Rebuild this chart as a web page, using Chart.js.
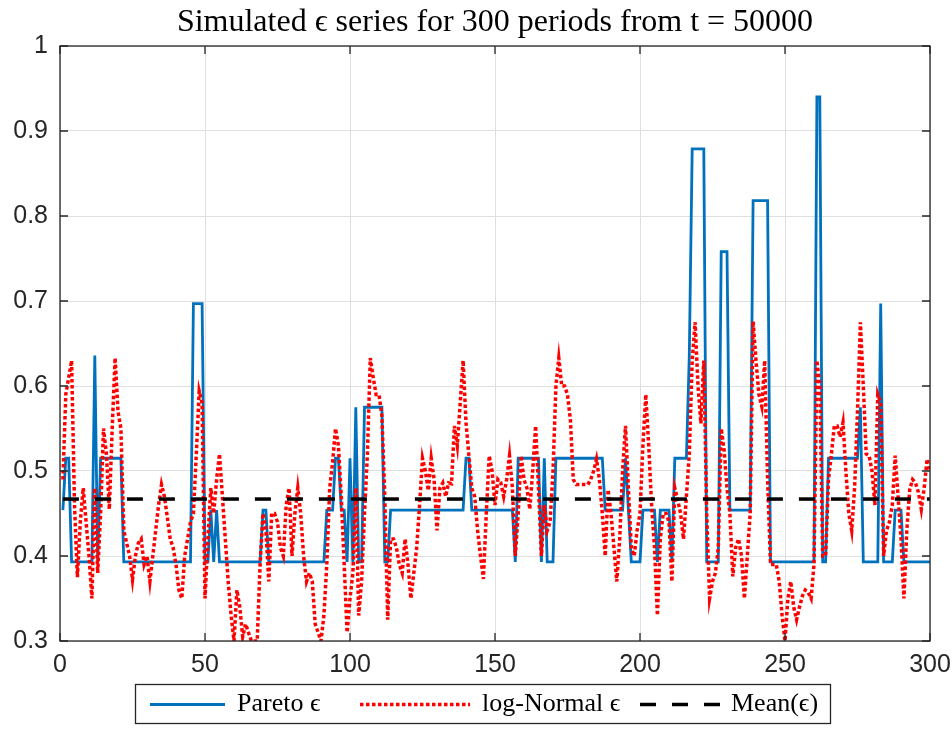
<!DOCTYPE html>
<html>
<head>
<meta charset="utf-8">
<script src="https://cdn.jsdelivr.net/npm/chart.js@4.4.1/dist/chart.umd.min.js"></script>
<style>
  html, body { margin: 0; padding: 0; background: #fff; }
</style>
</head>
<body>
<canvas id="chart" width="952" height="753"></canvas>
<script>
// periods 1..300 after t = 50000
const periods = Array.from({ length: 300 }, (_, i) => i + 1);

// Pareto epsilon (discrete levels)
const paretoEps = [
  .454,.515,.515,.393,.393,.393,.393,.393,.393,.393,
  .393,.636,.393,.515,.515,.515,.515,.515,.515,.515,
  .515,.393,.393,.393,.393,.393,.393,.393,.393,.393,
  .393,.393,.393,.393,.393,.393,.393,.393,.393,.393,
  .393,.393,.393,.393,.393,.697,.697,.697,.697,.393,
  .393,.454,.393,.454,.393,.393,.393,.393,.393,.393,
  .393,.393,.393,.393,.393,.393,.393,.393,.393,.454,
  .454,.393,.393,.393,.393,.393,.393,.393,.393,.393,
  .393,.393,.393,.393,.393,.393,.393,.393,.393,.393,
  .393,.454,.454,.454,.515,.515,.454,.454,.393,.515,
  .393,.575,.393,.393,.575,.575,.575,.575,.575,.575,
  .575,.393,.393,.454,.454,.454,.454,.454,.454,.454,
  .454,.454,.454,.454,.454,.454,.454,.454,.454,.454,
  .454,.454,.454,.454,.454,.454,.454,.454,.454,.515,
  .515,.454,.454,.454,.454,.454,.454,.454,.454,.454,
  .454,.454,.454,.454,.454,.454,.393,.515,.515,.515,
  .515,.515,.515,.515,.515,.393,.515,.393,.393,.393,
  .515,.515,.515,.515,.515,.515,.515,.515,.515,.515,
  .515,.515,.515,.515,.515,.515,.515,.454,.454,.454,
  .454,.454,.454,.454,.515,.454,.393,.393,.393,.393,
  .454,.454,.454,.454,.454,.393,.454,.454,.454,.454,
  .393,.515,.515,.515,.515,.515,.636,.879,.879,.879,
  .879,.879,.393,.393,.393,.393,.393,.758,.758,.758,
  .454,.454,.454,.454,.454,.454,.454,.454,.818,.818,
  .818,.818,.818,.818,.393,.393,.393,.393,.393,.393,
  .393,.393,.393,.393,.393,.393,.393,.393,.393,.393,
  .940,.940,.393,.393,.515,.515,.515,.515,.515,.515,
  .515,.515,.515,.515,.515,.575,.393,.393,.393,.393,
  .393,.393,.697,.393,.393,.393,.393,.454,.454,.454,
  .393,.393,.393,.393,.393,.393,.393,.393,.393,.393
];

// log-Normal epsilon
const logNormalEps = [
  .49,.59,.61,.63,.46,.375,.44,.48,.44,.40,
  .35,.48,.38,.45,.55,.52,.455,.55,.633,.57,
  .55,.43,.415,.40,.372,.40,.415,.42,.39,.40,
  .37,.40,.43,.46,.484,.47,.446,.42,.41,.39,
  .36,.35,.40,.42,.44,.45,.52,.594,.58,.35,
  .42,.48,.45,.49,.52,.47,.42,.37,.33,.30,
  .36,.34,.305,.32,.31,.30,.30,.30,.39,.45,
  .43,.37,.45,.45,.44,.41,.40,.46,.48,.40,
  .45,.48,.45,.40,.37,.38,.37,.32,.31,.30,
  .33,.39,.48,.51,.55,.53,.47,.39,.31,.35,
  .38,.48,.33,.37,.45,.52,.633,.61,.59,.59,
  .565,.47,.325,.42,.42,.41,.39,.38,.42,.39,
  .35,.38,.41,.46,.515,.50,.477,.515,.49,.43,
  .48,.486,.47,.486,.485,.553,.53,.58,.63,.557,
  .518,.48,.47,.43,.40,.373,.45,.518,.50,.46,
  .49,.486,.47,.49,.518,.48,.40,.45,.518,.49,
  .48,.455,.50,.553,.48,.40,.46,.43,.44,.50,
  .60,.633,.60,.60,.59,.56,.49,.484,.484,.484,
  .484,.484,.49,.50,.514,.49,.45,.40,.478,.45,
  .41,.37,.42,.50,.553,.48,.41,.40,.43,.45,
  .53,.59,.53,.46,.41,.33,.42,.45,.45,.44,
  .37,.48,.466,.45,.42,.47,.52,.63,.675,.60,
  .556,.63,.45,.35,.37,.38,.41,.55,.525,.48,
  .45,.376,.41,.42,.40,.35,.40,.45,.676,.63,
  .59,.576,.63,.49,.39,.39,.39,.37,.33,.30,
  .35,.37,.34,.325,.34,.353,.36,.357,.35,.39,
  .63,.60,.40,.40,.49,.52,.553,.553,.54,.557,
  .50,.45,.43,.48,.57,.675,.60,.52,.518,.50,
  .46,.59,.58,.40,.43,.44,.46,.518,.47,.42,
  .35,.43,.478,.49,.486,.475,.455,.48,.514,.50
];

const meanEps = 0.467;
const meanX = [1, 300];

const xTicks = [0, 50, 100, 150, 200, 250, 300];
const yTicks = [0.3, 0.4, 0.5, 0.6, 0.7, 0.8, 0.9, 1];
const legendLabels = ["Pareto \u03f5", "log-Normal \u03f5", "Mean(\u03f5)"];
const titleText = "Simulated \u03f5 series for 300 periods from t = 50000";

const axisColor = "#262626";
const blue = "#0072BD";
const red = "#FF0000";
const sansFont = "'Liberation Sans', Arial, sans-serif";
const serifFont = "'Liberation Serif', 'DejaVu Serif', serif";

// box around the axes with inward ticks, like matlab
const frame = {
  id: "frame",
  afterDatasetsDraw(chart) {
    const { ctx, chartArea: a, scales } = chart;
    ctx.save();
    ctx.strokeStyle = axisColor;
    ctx.lineWidth = 1.3;
    ctx.strokeRect(a.left, a.top, a.right - a.left, a.bottom - a.top);
    ctx.beginPath();
    xTicks.forEach(v => {
      const px = scales.x.getPixelForValue(v);
      ctx.moveTo(px, a.bottom); ctx.lineTo(px, a.bottom - 8);
      ctx.moveTo(px, a.top); ctx.lineTo(px, a.top + 8);
    });
    yTicks.forEach(v => {
      const py = scales.y.getPixelForValue(v);
      ctx.moveTo(a.left, py); ctx.lineTo(a.left + 8, py);
      ctx.moveTo(a.right, py); ctx.lineTo(a.right - 8, py);
    });
    ctx.stroke();
    ctx.restore();
  }
};

// boxed legend under the x axis
const legendBox = {
  id: "legendBox",
  afterDraw(chart) {
    const ctx = chart.ctx;
    const top = 684, h = 39, midY = top + h / 2 + 1;
    ctx.save();
    ctx.fillStyle = "#fff";
    ctx.fillRect(135.5, top + 0.5, 695, h);
    ctx.strokeStyle = axisColor;
    ctx.lineWidth = 1.3;
    ctx.strokeRect(135.5, top + 0.5, 695, h);

    const items = [
      { x0: 150, x1: 225, tx: 237, color: blue, width: 2.8, dash: [] },
      { x0: 360, x1: 470, tx: 482, color: red, width: 3.5, dash: [3.5, 2.5] },
      { x0: 640, x1: 720, tx: 731, color: "#000", width: 3.5, dash: [16, 16] }
    ];
    items.forEach((it, i) => {
      ctx.beginPath();
      ctx.setLineDash(it.dash);
      ctx.strokeStyle = it.color;
      ctx.lineWidth = it.width;
      ctx.moveTo(it.x0, midY); ctx.lineTo(it.x1, midY);
      ctx.stroke();
      ctx.setLineDash([]);
      ctx.fillStyle = "#000";
      ctx.font = "26px " + serifFont;
      ctx.textBaseline = "middle";
      ctx.fillText(legendLabels[i], it.tx, midY);
    });
    ctx.restore();
  }
};

new Chart(document.getElementById("chart"), {
  type: "line",
  data: {
    datasets: [
      {
        label: legendLabels[0],
        data: periods.map((t, i) => ({ x: t, y: paretoEps[i] })),
        borderColor: blue,
        borderWidth: 2.8,
        pointRadius: 0,
        tension: 0,
        clip: 0,
        order: 3
      },
      {
        label: legendLabels[1],
        data: periods.map((t, i) => ({ x: t, y: logNormalEps[i] })),
        borderColor: red,
        borderWidth: 3.5,
        borderDash: [3.5, 2.5],
        borderCapStyle: "butt",
        pointRadius: 0,
        tension: 0,
        clip: 0,
        order: 2
      },
      {
        label: legendLabels[2],
        data: meanX.map(t => ({ x: t, y: meanEps })),
        borderColor: "#000",
        borderWidth: 3.5,
        borderDash: [16, 16],
        pointRadius: 0,
        clip: 0,
        order: 1
      }
    ]
  },
  options: {
    responsive: false,
    animation: false,
    layout: { padding: { left: 0, right: 22, top: 0, bottom: 0 } },
    plugins: {
      legend: { display: false },
      tooltip: { enabled: false },
      title: {
        display: true,
        fullSize: false,
        text: titleText,
        color: "#000",
        font: { family: serifFont, size: 32, weight: "normal", lineHeight: 1.2 },
        padding: { top: 3, bottom: 4.6 }
      }
    },
    scales: {
      x: {
        type: "linear",
        min: 0,
        max: 300,
        afterFit: s => { s.height = 112; s.paddingLeft = 0; s.paddingRight = 0; },
        afterBuildTicks: s => { s.ticks = xTicks.map(v => ({ value: v })); },
        grid: { color: "#dfdfdf", lineWidth: 1, drawTicks: false },
        border: { display: false },
        ticks: { color: axisColor, padding: 9, maxRotation: 0, font: { family: sansFont, size: 25 } }
      },
      y: {
        min: 0.3,
        max: 1,
        afterFit: s => { s.width = 60; s.paddingTop = 0; s.paddingBottom = 0; },
        afterBuildTicks: s => { s.ticks = yTicks.map(v => ({ value: v })); },
        grid: { color: "#dfdfdf", lineWidth: 1, drawTicks: false },
        border: { display: false },
        ticks: {
          color: axisColor,
          padding: 12,
          font: { family: sansFont, size: 25 },
          callback: v => String(+v.toFixed(1))
        }
      }
    }
  },
  plugins: [frame, legendBox]
});
</script>
</body>
</html>
